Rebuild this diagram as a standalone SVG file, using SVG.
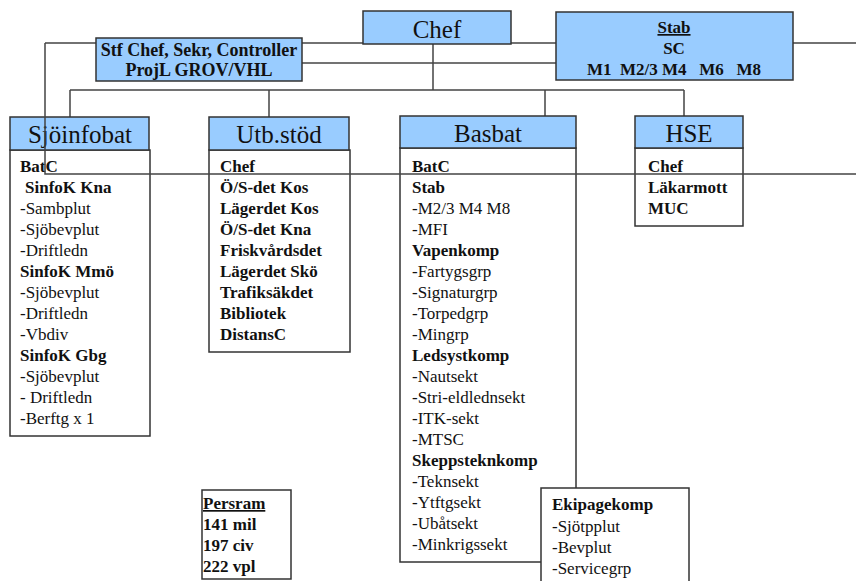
<svg xmlns="http://www.w3.org/2000/svg" width="856" height="581" viewBox="0 0 856 581">
<style>
.hdr{fill:#99CCFF;stroke:#333;stroke-width:1.5}
.box{fill:#fff;stroke:#333;stroke-width:1.5}
.ln{stroke:#444;stroke-width:1.5;fill:none}
text{fill:#111;font-family:"Liberation Serif","Times New Roman",serif}
.h{font-size:25px;text-anchor:middle}
.b{font-size:17px;font-weight:bold}
.r{font-size:17px}
.c{text-anchor:middle}
.u{text-decoration:underline}
.s{font-size:18px}
</style>
<rect width="856" height="581" fill="#fff"/>
<g id="connectors-back" class="ln">
<path d="M45 43H96M302 43H363M511 43H556M793 43H856"/>
<path d="M302 63H556"/>
<path d="M433 44V90M70 90H684M70 90V117M269 90V117M545 90V116M684 90V116"/>
</g>
<g id="chef">
<rect class="hdr" x="363" y="11" width="148" height="33"/>
<text class="h" x="437" y="38">Chef</text>
</g>
<g id="stf">
<rect class="hdr" x="96" y="38" width="206" height="43"/>
<text class="b c s" x="199" y="56">Stf Chef, Sekr, Controller</text>
<text class="b c s" x="199" y="76">ProjL GROV/VHL</text>
</g>
<g id="stab">
<rect class="hdr" x="556" y="12" width="237" height="68"/>
<text class="b c u" x="674" y="33">Stab</text>
<text class="b c" x="674" y="54">SC</text>
<text class="b c" x="674" y="75" xml:space="preserve">M1  M2/3 M4   M6   M8</text>
</g>
<g id="sjoinfobat">
<rect class="box" x="10" y="150" width="140" height="286"/>
<rect class="hdr" x="10" y="117" width="139" height="33"/>
<text class="h" x="80" y="143">Sjöinfobat</text>
<text class="b" x="20" y="172">BatC</text>
<text class="b" x="25" y="193">SinfoK Kna</text>
<text class="r" x="20" y="214">-Sambplut</text>
<text class="r" x="20" y="235">-Sjöbevplut</text>
<text class="r" x="20" y="256">-Driftledn</text>
<text class="b" x="20" y="277">SinfoK Mmö</text>
<text class="r" x="20" y="298">-Sjöbevplut</text>
<text class="r" x="20" y="319">-Driftledn</text>
<text class="r" x="20" y="340">-Vbdiv</text>
<text class="b" x="20" y="361">SinfoK Gbg</text>
<text class="r" x="20" y="382">-Sjöbevplut</text>
<text class="r" x="20" y="403" xml:space="preserve">- Driftledn</text>
<text class="r" x="20" y="424">-Berftg x 1</text>
</g>
<g id="utbstod">
<rect class="box" x="209" y="150" width="141" height="202"/>
<rect class="hdr" x="209" y="117" width="140" height="33"/>
<text class="h" x="279" y="143">Utb.stöd</text>
<text class="b" x="220" y="172">Chef</text>
<text class="b" x="220" y="193">Ö/S-det Kos</text>
<text class="b" x="220" y="214">Lägerdet Kos</text>
<text class="b" x="220" y="235">Ö/S-det Kna</text>
<text class="b" x="220" y="256">Friskvårdsdet</text>
<text class="b" x="220" y="277">Lägerdet Skö</text>
<text class="b" x="220" y="298">Trafiksäkdet</text>
<text class="b" x="220" y="319">Bibliotek</text>
<text class="b" x="220" y="340">DistansC</text>
</g>
<g id="basbat">
<rect class="box" x="400" y="148" width="176" height="414"/>
<rect class="hdr" x="400" y="116" width="176" height="32"/>
<text class="h" x="488" y="142">Basbat</text>
<text class="b" x="412" y="172">BatC</text>
<text class="b" x="412" y="193">Stab</text>
<text class="r" x="412" y="214">-M2/3 M4 M8</text>
<text class="r" x="412" y="235">-MFI</text>
<text class="b" x="412" y="256">Vapenkomp</text>
<text class="r" x="412" y="277">-Fartygsgrp</text>
<text class="r" x="412" y="298">-Signaturgrp</text>
<text class="r" x="412" y="319">-Torpedgrp</text>
<text class="r" x="412" y="340">-Mingrp</text>
<text class="b" x="412" y="361">Ledsystkomp</text>
<text class="r" x="412" y="382">-Nautsekt</text>
<text class="r" x="412" y="403">-Stri-eldlednsekt</text>
<text class="r" x="412" y="424">-ITK-sekt</text>
<text class="r" x="412" y="445">-MTSC</text>
<text class="b" x="412" y="466">Skeppsteknkomp</text>
<text class="r" x="412" y="487">-Teknsekt</text>
<text class="r" x="412" y="508">-Ytftgsekt</text>
<text class="r" x="412" y="529">-Ubåtsekt</text>
<text class="r" x="412" y="550">-Minkrigssekt</text>
</g>
<g id="hse">
<rect class="box" x="635" y="148" width="108" height="78"/>
<rect class="hdr" x="635" y="116" width="108" height="32"/>
<text class="h" x="689" y="142">HSE</text>
<text class="b" x="648" y="172">Chef</text>
<text class="b" x="648" y="193">Läkarmott</text>
<text class="b" x="648" y="214">MUC</text>
</g>
<g id="ekipagekomp">
<rect class="box" x="541" y="488" width="148" height="100"/>
<text class="b" x="552" y="510">Ekipagekomp</text>
<text class="r" x="552" y="532">-Sjötpplut</text>
<text class="r" x="552" y="553">-Bevplut</text>
<text class="r" x="552" y="574">-Servicegrp</text>
</g>
<g id="persram">
<rect class="box" x="202" y="490" width="89" height="89"/>
<text class="b u" x="203" y="509">Persram</text>
<text class="b" x="203" y="530">141 mil</text>
<text class="b" x="203" y="551">197 civ</text>
<text class="b" x="203" y="572">222 vpl</text>
</g>
<g id="connectors-front" class="ln">
<path d="M45 43V174H856"/>
</g>
</svg>
